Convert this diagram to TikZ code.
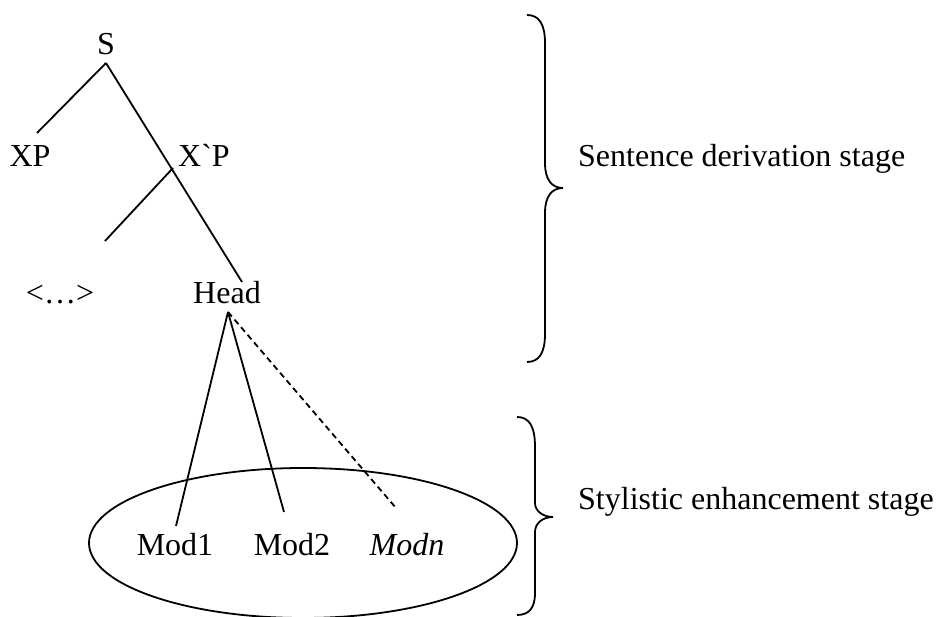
\documentclass[tikz,border=0pt]{standalone}
\usepackage{fontspec}
\setmainfont{Liberation Serif}[Ligatures=TeXOff]
\usetikzlibrary{shapes.geometric}
\begin{document}
\begin{tikzpicture}[x=1pt,y=-1pt,
  lbl/.style={anchor=base,inner sep=0pt,font=\fontsize{32}{38}\selectfont},
  branch/.style={line width=1.8pt},
  dashbranch/.style={line width=1.8pt,dash pattern=on 6pt off 4pt},
  bracepath/.style={line width=1.8pt},
  bubble/.style={draw,ellipse,line width=1.8pt,minimum width=428pt,minimum height=150pt,inner sep=0pt}]
\useasboundingbox (0,0) rectangle (937,617);
% ellipse
\node[bubble] (group) at (303,543) {};
% labels
\node[lbl] (S) at (106,55) {S};
\node[lbl] (XP) at (30,167) {XP};
\node[lbl] (XbarP) at (204,167) {X`P};
\node[lbl] (dots) at (60,304) {<…>};
\node[lbl] (Head) at (227,304) {Head};
\node[lbl] (Mod1) at (175,555) {Mod1};
\node[lbl] (Mod2) at (292,555) {Mod2};
\node[lbl] (Modn) at (407,555) {\itshape Modn};
\node[lbl,anchor=base west] (stage1) at (578,167) {Sentence derivation stage};
\node[lbl,anchor=base west] (stage2) at (578,509) {Stylistic enhancement stage};
% connector end points
\coordinate (Sfoot) at (106,63);
\coordinate (XPtop) at (37,133);
\coordinate (Headtop) at (242,282);
\coordinate (XbarPfoot) at (173,168);
\coordinate (Spec) at (105,241);
\coordinate (Headfoot) at (228,312);
\coordinate (Mod1top) at (176,526);
\coordinate (Mod2top) at (284,512);
\coordinate (Modntop) at (396,508);
% tree
\draw[branch] (Sfoot) -- (XPtop);
\draw[branch] (Sfoot) -- (Headtop);
\draw[branch] (XbarPfoot) -- (Spec);
\draw[branch] (Headfoot) -- (Mod1top);
\draw[branch] (Headfoot) -- (Mod2top);
\draw[dashbranch] (Headfoot) -- (Modntop);
% braces
\draw[bracepath] (527,15) .. controls (539,15) and (545,24) .. (545,43)
  -- (545,163) .. controls (545,180) and (552,188) .. (563,188)
  .. controls (552,188) and (545,196) .. (545,213)
  -- (545,334) .. controls (545,353) and (539,362) .. (527,362);
\draw[bracepath] (517,417) .. controls (529,417) and (535,426) .. (535,447)
  -- (535,503) .. controls (535,511) and (543,517) .. (553,517)
  .. controls (543,517) and (535,523) .. (535,532)
  -- (535,593) .. controls (535,608) and (529,615) .. (517,615);
\end{tikzpicture}
\end{document}
